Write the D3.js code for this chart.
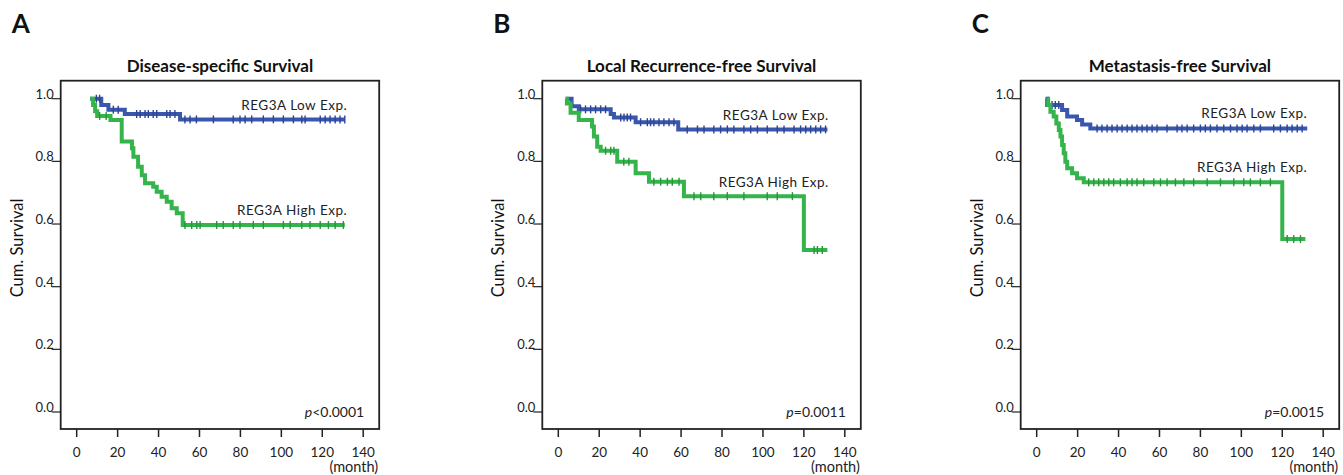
<!DOCTYPE html>
<html>
<head>
<meta charset="utf-8">
<script src="https://cdn.jsdelivr.net/npm/d3@7"></script>
<style>
  body { margin: 0; background: #fff; }
  svg { display: block; font-family: Lato, "Open Sans", sans-serif; }
</style>
</head>
<body>
<svg width="1343" height="475"></svg>
<script>
// tick labels
const xTicks = [0, 20, 40, 60, 80, 100, 120, 140];
const yTicks = [0.0, 0.2, 0.4, 0.6, 0.8, 1.0];

// A - disease-specific survival
const dssLowT  = [6.5, 12, 15.5, 23.5, 50.5, 131];
const dssLowS  = [1.0, 0.98, 0.965, 0.951, 0.934, 0.934];
const dssLowC  = [9.6, 11.2, 17.9, 20.3, 29.3, 31, 33.4, 35, 37.4, 39.1, 44, 45.6, 48,
                  52.9, 55.4, 58.5, 66.8, 76.5, 79.8, 82.3, 85.5, 91.2, 96.1, 101, 105.9,
                  110, 111.6, 119, 121.4, 123.8, 126.3, 128.7, 131];
const dssHighT = [6.5, 8, 9, 10, 16.5, 22, 27, 27.7, 30, 31.8, 33.4, 37.4, 39.1, 41.5, 44, 46.4, 48.9, 51.8, 131];
const dssHighS = [1.0, 0.98, 0.96, 0.945, 0.932, 0.863, 0.842, 0.815, 0.783, 0.756, 0.73, 0.719, 0.703, 0.687, 0.671, 0.65, 0.634, 0.597, 0.597];
const dssHighC = [11.2, 14.4, 52.9, 56.2, 58.7, 60.3, 68.4, 71.6, 76.5, 79.8, 86.3, 91.2, 101,
                  104.3, 110, 114, 119, 123, 126.3, 130.3];

// B - local recurrence-free survival
const lrfsLowT  = [3.6, 6.5, 10, 25.6, 27.2, 37.8, 58.6, 131.5];
const lrfsLowS  = [1.0, 0.976, 0.966, 0.951, 0.94, 0.925, 0.902, 0.902];
const lrfsLowC  = [10.9, 13.3, 15.8, 18.2, 20.7, 23.1, 30.5, 32.1, 33.7, 35.3, 40.2, 43.5, 45.1,
                   46.7, 49.2, 51.6, 54.1, 56.5, 63, 68, 71.2, 76, 79.3, 82.6, 85.8, 90.7, 94,
                   97.3, 102.1, 107, 110.3, 115.2, 118.4, 120.9, 123.3, 125.8, 128.2, 130.6];
const lrfsHighT = [3.6, 4.2, 6, 10, 16.5, 17.4, 19, 20.7, 28.8, 37.8, 44.3, 61.4, 120, 131.5];
const lrfsHighS = [1.0, 0.985, 0.955, 0.932, 0.911, 0.879, 0.847, 0.834, 0.799, 0.762, 0.735, 0.689, 0.517, 0.517];
const lrfsHighC = [23.1, 25.6, 27.2, 32, 34.5, 46.7, 50, 53.3, 55.7, 59, 66.3, 69.6, 76, 82.6,
                   90.7, 102.1, 107, 114.4, 125, 126.6, 129];

// C - metastasis-free survival
const mfsLowT  = [4.3, 5.1, 12.4, 14.9, 19.7, 22.2, 26.2, 132.2];
const mfsLowS  = [1.0, 0.98, 0.964, 0.943, 0.932, 0.918, 0.905, 0.905];
const mfsLowC  = [7.5, 9.1, 10.8, 29.5, 31.9, 34.4, 36.8, 39.3, 41.7, 44.2, 46.6, 49, 51.5, 53.9,
                  56.4, 58.8, 63.7, 68.6, 71, 73.5, 76.7, 80, 82.4, 84.9, 88.1, 91.4, 94.7, 97.9,
                  100.4, 102.8, 106.1, 109.3, 115.8, 119.1, 122.4, 124.8, 127.3, 129.7];
const mfsHighT = [5.1, 5.6, 6.7, 8.3, 9.6, 10.8, 11.6, 12.4, 13.2, 14, 14.9, 17.3, 19.7, 23, 120, 131.3];
const mfsHighS = [1.0, 0.98, 0.958, 0.943, 0.921, 0.9, 0.879, 0.852, 0.826, 0.799, 0.778, 0.762, 0.746, 0.733, 0.552, 0.552];
const mfsHighC = [25.4, 27.9, 30.3, 32.8, 35.2, 37.6, 40.9, 44.2, 46.6, 49, 52.3, 57.2, 60.5, 63.7,
                  67.8, 71.9, 76.7, 83.3, 89.8, 96.3, 101.2, 104.4, 109.3, 114.2, 122.4, 125.6, 128.9];

const lowName = "REG3A Low Exp.";
const highName = "REG3A High Exp.";
const blue = "#3b57ad", green = "#35b44c";

const panels = [
  { letter: "A", title: "Disease-specific Survival", p: "<0.0001", x0: 60.7,
    low: [dssLowT, dssLowS, dssLowC], high: [dssHighT, dssHighS, dssHighC], lowY: 0.964, highY: 0.629 },
  { letter: "B", title: "Local Recurrence-free Survival", p: "=0.0011", x0: 542.3,
    low: [lrfsLowT, lrfsLowS, lrfsLowC], high: [lrfsHighT, lrfsHighS, lrfsHighC], lowY: 0.932, highY: 0.718 },
  { letter: "C", title: "Metastasis-free Survival", p: "=0.0015", x0: 1020.7,
    low: [mfsLowT, mfsLowS, mfsLowC], high: [mfsHighT, mfsHighS, mfsHighC], lowY: 0.938, highY: 0.766 }
];

const svg = d3.select("svg");
const boxW = 318.5, boxTop = 80.7, boxBottom = 429;

panels.forEach(pn => {
  const g = svg.append("g");
  const x = d3.scaleLinear().domain([0, 140]).range([pn.x0 + 16, pn.x0 + 302.5]);
  const y = d3.scaleLinear().domain([0, 1]).range([412, 98.7]);
  const right = pn.x0 + boxW;

  // panel letter + title
  g.append("text").attr("x", pn.x0 - 49).attr("y", 33)
    .attr("font-size", 26).attr("font-weight", "bold").attr("fill", "#111").text(pn.letter);
  g.append("text").attr("x", pn.x0 + boxW / 2).attr("y", 72).attr("text-anchor", "middle")
    .attr("font-size", 17).attr("font-weight", "bold").attr("fill", "#111").text(pn.title);

  // frame
  g.append("rect").attr("x", pn.x0).attr("y", boxTop)
    .attr("width", boxW).attr("height", boxBottom - boxTop)
    .attr("fill", "none").attr("stroke", "#222").attr("stroke-width", 1.8);

  // y axis ticks (label sits on the tick)
  const yt = g.selectAll(".yt").data(yTicks).enter().append("g");
  yt.append("line").attr("x1", pn.x0 - 9).attr("x2", pn.x0)
    .attr("y1", d => y(d)).attr("y2", d => y(d)).attr("stroke", "#222").attr("stroke-width", 1.2);
  yt.append("text").attr("x", pn.x0 - 7).attr("y", d => y(d)).attr("text-anchor", "end")
    .attr("font-size", 13).attr("fill", "#222").text(d => d.toFixed(1));

  // x axis ticks below frame
  const xt = g.selectAll(".xt").data(xTicks).enter().append("g");
  xt.append("line").attr("x1", d => x(d)).attr("x2", d => x(d))
    .attr("y1", boxBottom).attr("y2", boxBottom + 8).attr("stroke", "#222").attr("stroke-width", 1.5);
  xt.append("text").attr("x", d => x(d)).attr("y", 456.5).attr("text-anchor", "middle")
    .attr("font-size", 13.5).attr("fill", "#222").text(d => d);
  g.append("text").attr("x", right - 1).attr("y", 472).attr("text-anchor", "end")
    .attr("font-size", 14.5).attr("fill", "#222").text("(month)");

  // y title
  g.append("text").attr("transform", `translate(${pn.x0 - 38},${248}) rotate(-90)`)
    .attr("text-anchor", "middle").attr("font-size", 16.5).attr("fill", "#111").text("Cum. Survival");

  // curves
  const line = d3.line().x(d => x(d[0])).y(d => y(d[1])).curve(d3.curveStepAfter);
  [[pn.low, blue, "#2c4596"], [pn.high, green, "#26963a"]].forEach(([c, col, dark]) => {
    const [t, s, cens] = c;
    const pts = t.map((v, i) => [v, s[i]]);
    g.append("path").datum(pts).attr("d", line)
      .attr("fill", "none").attr("stroke", col).attr("stroke-width", 4);
    const survAt = m => s[d3.bisectRight(t, m) - 1];
    g.selectAll(null).data(cens).enter().append("line")
      .attr("x1", d => x(d)).attr("x2", d => x(d))
      .attr("y1", d => y(survAt(d)) - 4).attr("y2", d => y(survAt(d)) + 4)
      .attr("stroke", dark).attr("stroke-width", 1.4);
  });

  // curve labels
  g.append("text").attr("x", right - 32).attr("y", y(pn.lowY)).attr("text-anchor", "end")
    .attr("font-size", 13.5).attr("fill", "#222").attr("letter-spacing", 0.5).text(lowName);
  g.append("text").attr("x", right - 32).attr("y", y(pn.highY)).attr("text-anchor", "end")
    .attr("font-size", 13.5).attr("fill", "#222").attr("letter-spacing", 0.5).text(highName);

  // p value
  const pt = g.append("text").attr("x", right - 15).attr("y", 417).attr("text-anchor", "end")
    .attr("font-size", 14).attr("fill", "#222");
  pt.append("tspan").attr("font-style", "italic").text("p");
  pt.append("tspan").text(pn.p);
});
</script>
</body>
</html>
